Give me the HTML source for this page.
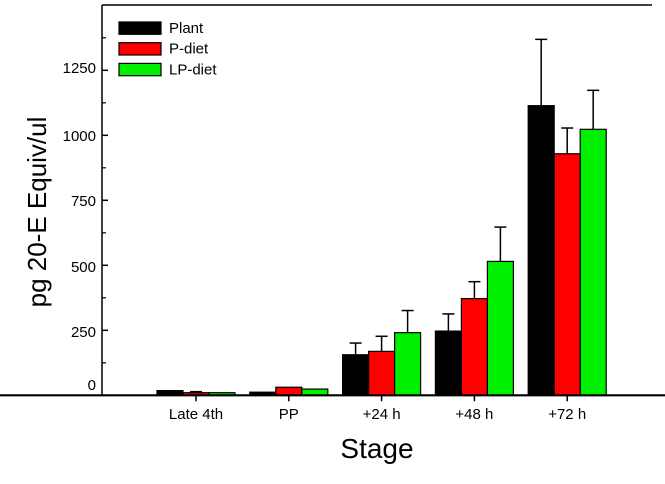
<!DOCTYPE html>
<html><head><meta charset="utf-8"><style>
body{margin:0;background:#fff;}
svg text{font-family:"Liberation Sans",Arial,sans-serif;}
</style></head><body>
<svg width="665" height="479" viewBox="0 0 665 479" xmlns="http://www.w3.org/2000/svg">
<g id="plot"></g>
</svg>
<script>
const categories = ["Late 4th","PP","+24 h","+48 h","+72 h"];
const seriesNames = ["Plant","P-diet","LP-diet"];
const plantVals = [18,12,156,247,1114];
const pdietVals = [10,31,169,372,929];
const lpdietVals = [10,24,241,515,1023];
const plantErr = [0,0,201,313,1369];
const pdietErr = [14,0,227,437,1028];
const lpdietErr = [0,0,326,647,1173];
const yTicks = [0,250,500,750,1000,1250];
const yTickLabelPos = [384,331,266,200,135,67];

const NS="http://www.w3.org/2000/svg";
const g=document.getElementById('plot');
const colors=["#000000","#ff0000","#00ee00"];
const plotL=102, plotR=652, plotT=5, base=395.3, pxPerUnit=65/250;
const y=v=>base-v*pxPerUnit;
const xc=i=>196+i*92.8;
const bw=26;
function mk(tag,attrs){const e=document.createElementNS(NS,tag);for(const k in attrs)e.setAttribute(k,attrs[k]);g.appendChild(e);return e;}

let e=mk('line',{x1:plotL,y1:plotT,x2:plotR,y2:plotT,stroke:'#000','stroke-width':1.5});


e=mk('line',{x1:plotL,y1:plotT,x2:plotL,y2:base,stroke:'#000','stroke-width':1.5});



yTicks.forEach((t,i)=>{
  let tk=mk('line',{x1:plotL,y1:y(t),x2:plotL+6,y2:y(t),stroke:'#000','stroke-width':1.5});
  
  
  let mt=mk('line',{x1:plotL,y1:y(t+125),x2:plotL+4,y2:y(t+125),stroke:'#000','stroke-width':1.2});
  
  
  let lb=mk('text',{x:96,y:yTickLabelPos[i]+6,'text-anchor':'end','font-size':15});
  lb.textContent=t;
  
  
});

const vals=[plantVals,pdietVals,lpdietVals];
const errs=[plantErr,pdietErr,lpdietErr];
categories.forEach((c,i)=>{
  for(let s=0;s<3;s++){
    const x0=xc(i)+(s-1)*bw-bw/2;
    const v=vals[s][i], er=errs[s][i];
    if(er>v){
      let l=mk('line',{x1:x0+bw/2,y1:y(v),x2:x0+bw/2,y2:y(er),stroke:'#000','stroke-width':1.5});
      
      
      let cap=mk('line',{x1:x0+bw/2-6,y1:y(er),x2:x0+bw/2+6,y2:y(er),stroke:'#000','stroke-width':1.5});
      
      
    }
    let r=mk('rect',{x:x0,y:y(v),width:bw,height:base-y(v),fill:colors[s],stroke:'#000','stroke-width':1.2});
    
    
  }
  let tk=mk('line',{x1:xc(i),y1:base,x2:xc(i),y2:base+6,stroke:'#000','stroke-width':1.5});
  
  
  let lb=mk('text',{x:xc(i),y:419,'text-anchor':'middle','font-size':15});
  lb.textContent=c;
  
  
});
e=mk('line',{x1:0,y1:base,x2:665,y2:base,stroke:'#000','stroke-width':2.2});



seriesNames.forEach((n,s)=>{
  let r=mk('rect',{x:119,y:22+s*20.7,width:42,height:12.3,fill:colors[s],stroke:'#000','stroke-width':1.2});
  
  
  let t=mk('text',{x:169,y:33+s*20.7,'font-size':15});
  t.textContent=n;
  
  
});

let yt=mk('text',{x:0,y:0,'text-anchor':'middle','font-size':26,transform:'translate(46,212) rotate(-90)'});
yt.textContent='pg 20-E Equiv/ul';


let xt=mk('text',{x:377,y:458,'text-anchor':'middle','font-size':28});
xt.textContent='Stage';


</script>
</body></html>
